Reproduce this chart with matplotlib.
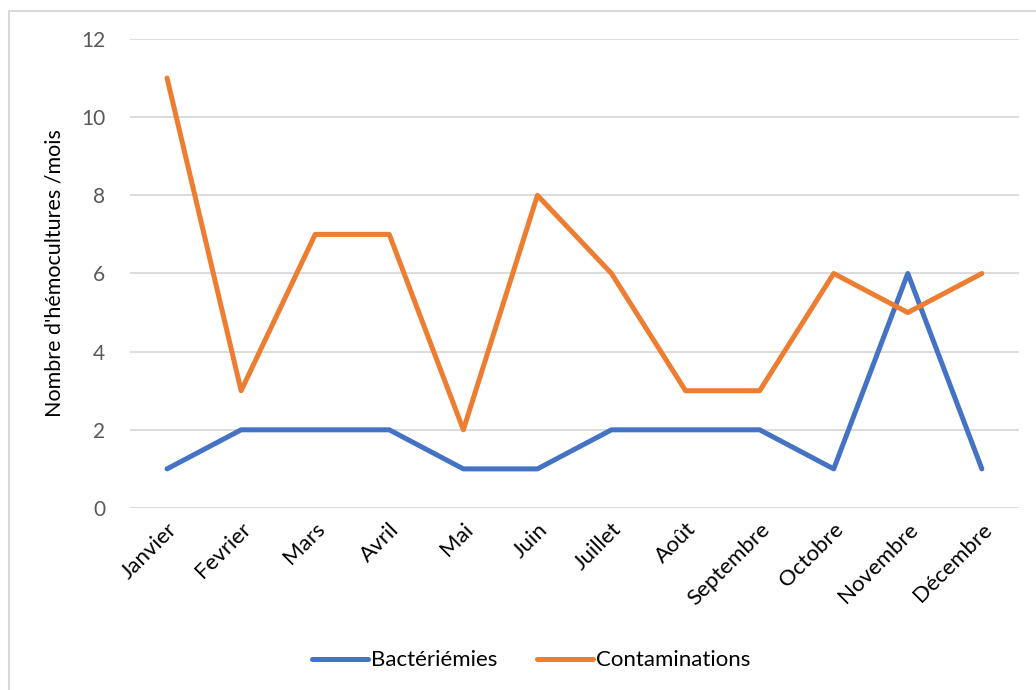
import matplotlib.pyplot as plt
from matplotlib.patches import Rectangle

months = ["Janvier", "Fevrier", "Mars", "Avril", "Mai", "Juin",
          "Juillet", "Août", "Septembre", "Octobre", "Novembre", "Décembre"]
bacteriemies = [1, 2, 2, 2, 1, 1, 2, 2, 2, 1, 6, 1]
contaminations = [11, 3, 7, 7, 2, 8, 6, 3, 3, 6, 5, 6]
y_ticks = [0, 2, 4, 6, 8, 10, 12]

plt.rcParams['font.family'] = ['Lato', 'DejaVu Sans']

fig = plt.figure(figsize=(10.36, 6.9), dpi=100)
ax = fig.add_axes([0.1255, 0.2638, 0.858, 0.6797])

x = list(range(len(months)))
ax.plot(x, bacteriemies, color="#4472c4", linewidth=3.6,
        solid_capstyle="round", solid_joinstyle="round", label="Bactériémies")
ax.plot(x, contaminations, color="#ed7d31", linewidth=3.6,
        solid_capstyle="round", solid_joinstyle="round", label="Contaminations")

ax.set_xlim(-0.5, len(months) - 0.5)
ax.set_ylim(0, 12)
ax.set_yticks(y_ticks)
ax.set_xticks(x)
ax.set_xticklabels(months, rotation=45, ha="right", va="top",
                   rotation_mode="anchor", fontsize=16, color="#000000")
ax.tick_params(axis="y", labelsize=15, labelcolor="#595959", length=0, pad=18)
ax.tick_params(axis="x", length=0, pad=8)

ax.grid(axis="y", color="#d9d9d9", linewidth=1.3)
ax.set_axisbelow(True)
for s in ax.spines.values():
    s.set_visible(False)

ax.set_ylabel("Nombre d'hémocultures /mois", fontsize=15.5, color="#000000", labelpad=12)

fig.legend(loc="center", bbox_to_anchor=(0.513, 0.043), ncol=2, frameon=False,
           fontsize=16, handlelength=2.5, columnspacing=1.8, handletextpad=0.15)

fig.patches.append(Rectangle((9 / 1036, -0.05), 1.2, 1.05 - 11 / 690,
                             transform=fig.transFigure, fill=False,
                             edgecolor="#d9d9d9", linewidth=1.5))

fig.savefig("out.png", dpi=100)
